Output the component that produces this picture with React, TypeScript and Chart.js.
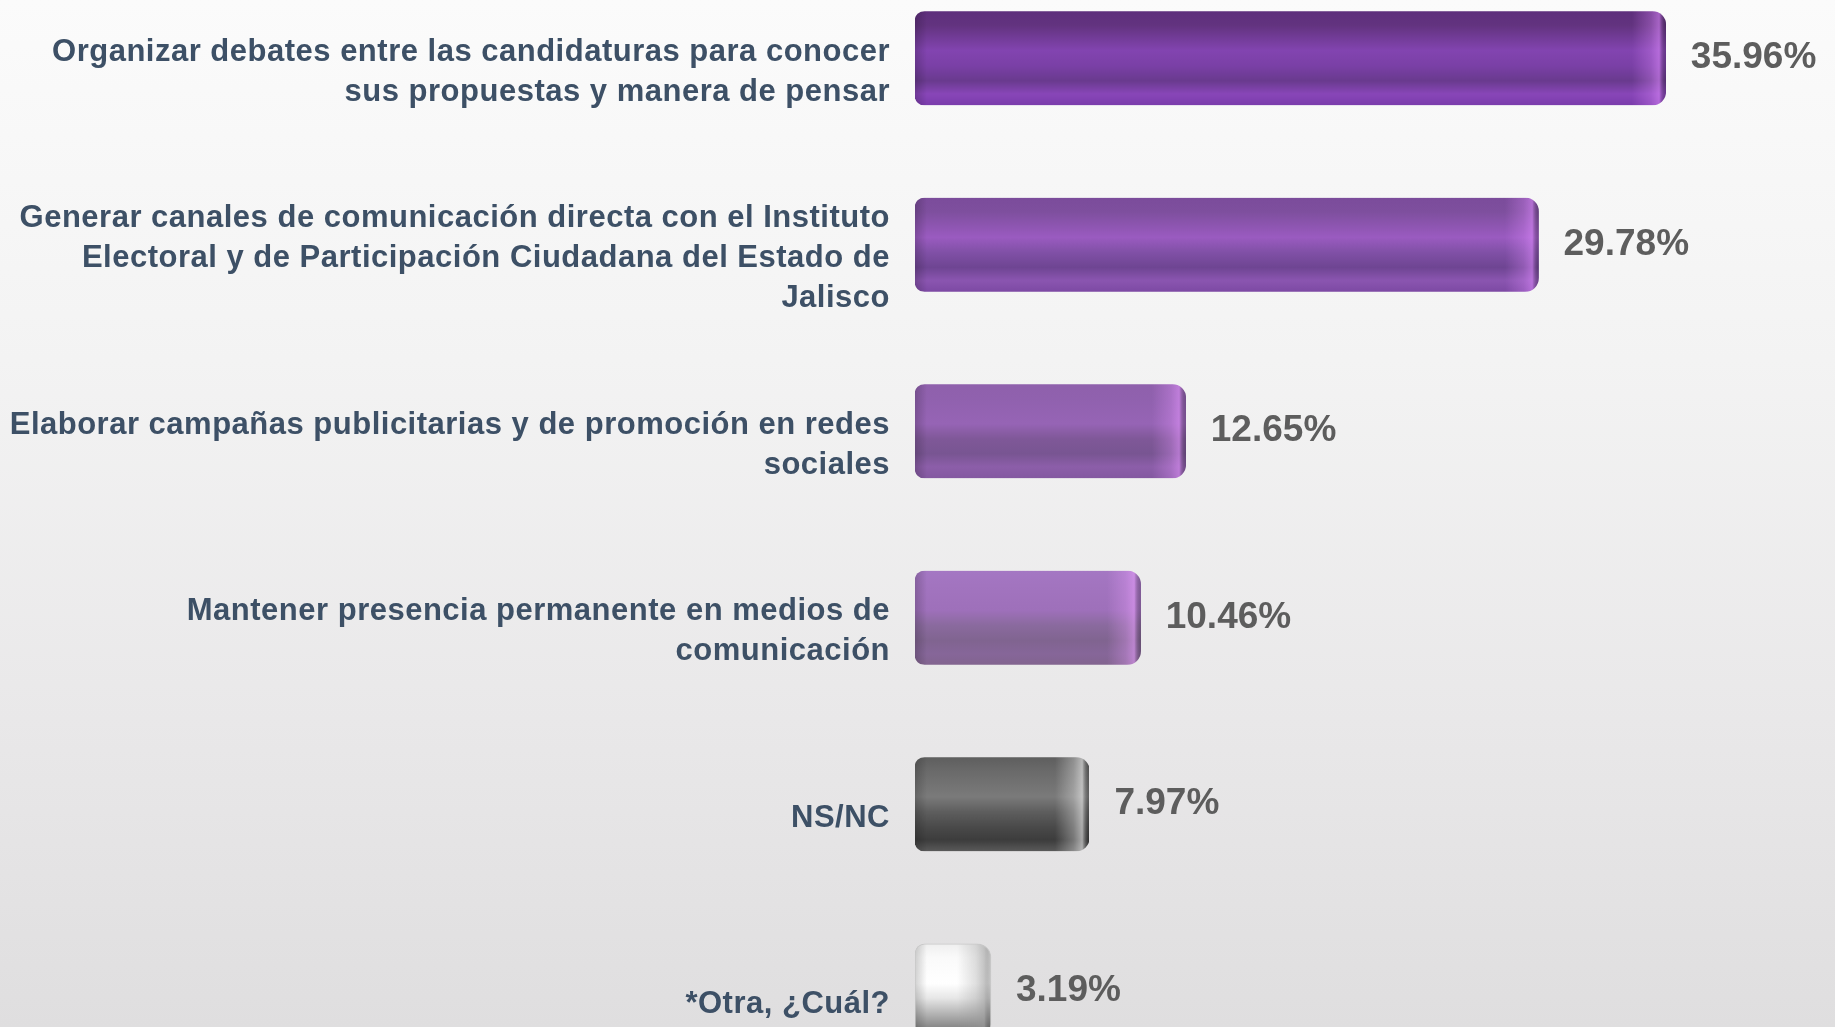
import React, { useEffect, useRef } from "react";
import { Chart, registerables } from "chart.js";

Chart.register(...registerables);

const categories: (string | string[])[] = [
  ["Organizar debates entre las candidaturas para conocer", "sus propuestas y manera de pensar"],
  ["Generar canales de comunicación directa con el Instituto", "Electoral y de Participación Ciudadana del Estado de", "Jalisco"],
  ["Elaborar campañas publicitarias y de promoción en redes", "sociales"],
  ["Mantener presencia permanente en medios de", "comunicación"],
  "NS/NC",
  "*Otra, ¿Cuál?",
];

const values: number[] = [35.96, 29.78, 12.65, 10.46, 7.97, 3.19];

// vertical shading stops for each cylinder (top -> bottom)
const barShades: string[][] = [
  ["#5e2f7c", "#62337f", "#8244b0", "#7a40a6", "#693a8e", "#8846b8", "#7a3cab"],
  ["#7b4c9b", "#7e4f9e", "#9a5bc0", "#8050a6", "#6e4592", "#8a55b0", "#7c49a3"],
  ["#8f60ac", "#9061ae", "#9664b5", "#7f5898", "#785592", "#8c5ea9", "#8358a0"],
  ["#a477c3", "#a274bf", "#9e70ba", "#8a6a9e", "#806490", "#866699", "#82648f"],
  ["#5e5e5e", "#6a6a6a", "#7a7a7a", "#5e5e5e", "#4a4a4a", "#3c3c3c", "#5a5a5a"],
  ["#efefef", "#fafafa", "#ffffff", "#e6e6e6", "#b5b5b5", "#8a8a8a", "#6a6a6a"],
];
const capHighlights: string[] = ["224,140,255", "224,140,255", "230,150,255", "235,160,255", "255,255,255", "150,150,150"];

const BAR_THICKNESS = 94;
const BASE_VALUE = -0.5;
const CANVAS_W = 1835;
const CANVAS_H = 1119;
const VIEW_H = 1027;

function makeBarFill(ch: any, i: number): any {
  const xs = ch.scales.x;
  const ys = ch.scales.y;
  const x0 = xs.getPixelForValue(BASE_VALUE);
  const x1 = xs.getPixelForValue(values[i]);
  const yc = ys.getPixelForValue(i);
  const w = Math.max(4, Math.round(x1 - x0));
  const h = BAR_THICKNESS;
  const off = document.createElement("canvas");
  off.width = w;
  off.height = h;
  const c = off.getContext("2d") as CanvasRenderingContext2D;
  const shades = barShades[i] || barShades[0];
  const pos = [0, 0.15, 0.42, 0.58, 0.74, 0.88, 1];
  const g = c.createLinearGradient(0, 0, 0, h);
  shades.forEach((s, k) => g.addColorStop(pos[k], s));
  c.fillStyle = g;
  c.fillRect(0, 0, w, h);
  // left edge shading
  const lg = c.createLinearGradient(0, 0, 12, 0);
  lg.addColorStop(0, "rgba(0,0,0,0.18)");
  lg.addColorStop(1, "rgba(0,0,0,0)");
  c.fillStyle = lg;
  c.fillRect(0, 0, 12, h);
  // right cap highlight
  const capW = Math.min(34, w / 2);
  const rgb = capHighlights[i] || capHighlights[0];
  const hg = c.createLinearGradient(w - capW, 0, w, 0);
  hg.addColorStop(0, `rgba(${rgb},0)`);
  hg.addColorStop(0.55, `rgba(${rgb},0.3)`);
  hg.addColorStop(0.8, `rgba(${rgb},0.55)`);
  hg.addColorStop(1, "rgba(0,0,0,0.2)");
  c.fillStyle = hg;
  c.fillRect(w - capW, 0, capW, h);
  const p = ch.ctx.createPattern(off, "no-repeat");
  if (p && (p as any).setTransform) {
    p.setTransform(new DOMMatrix([1, 0, 0, 1, x0, yc - h / 2]));
  }
  return p || shades[2];
}

export default function App() {
  const canvasRef = useRef<HTMLCanvasElement | null>(null);

  useEffect(() => {
    const canvas = canvasRef.current;
    if (!canvas) return;

    const letterSpacingPlugin = {
      id: "letterSpacing",
      beforeDraw(chart: any) {
        (chart.ctx as any).letterSpacing = "0.5px";
      },
    };

    const valueLabels = {
      id: "valueLabels",
      afterDatasetsDraw(chart: any) {
        const ctx = chart.ctx;
        const meta = chart.getDatasetMeta(0);
        ctx.save();
        (ctx as any).letterSpacing = "0px";
        ctx.font = "bold 37px 'Liberation Sans', Arial, sans-serif";
        ctx.fillStyle = "#5d5d5d";
        ctx.textAlign = "left";
        ctx.textBaseline = "middle";
        meta.data.forEach((el: any, i: number) => {
          ctx.fillText(values[i].toFixed(2) + "%", el.x + 25, el.y);
        });
        ctx.restore();
      },
    };

    const chart = new Chart(canvas, {
      type: "bar",
      data: {
        labels: categories,
        datasets: [
          {
            data: values,
            base: BASE_VALUE,
            barThickness: BAR_THICKNESS,
            borderRadius: { topLeft: 10, bottomLeft: 10, topRight: 14, bottomRight: 14 },
            borderSkipped: false,
            borderWidth: (c: any) => (c.dataIndex === 5 ? 1 : 0),
            borderColor: "#c8c8c8",
            backgroundColor: (c: any) => {
              const ch = c.chart;
              const shades = barShades[c.dataIndex] || barShades[0];
              if (!ch.chartArea || !ch.scales.y || !ch.scales.x) return shades[2];
              return makeBarFill(ch, c.dataIndex);
            },
          } as any,
        ],
      },
      options: {
        indexAxis: "y",
        responsive: false,
        maintainAspectRatio: false,
        animation: false,
        devicePixelRatio: 1,
        layout: { padding: { left: 0, right: 86, top: 0, bottom: 0 } },
        plugins: {
          legend: { display: false },
          tooltip: { enabled: false },
        },
        scales: {
          x: {
            display: false,
            min: BASE_VALUE,
            max: 40,
          },
          y: {
            grid: { display: false },
            border: { display: false },
            afterFit: (scale: any) => {
              scale.width = 915;
              scale.paddingTop = 0;
              scale.paddingBottom = 0;
            },
            ticks: {
              autoSkip: false,
              padding: 17,
              labelOffset: 14,
              color: "#3d5066",
              font: {
                family: "'Liberation Sans', Arial, sans-serif",
                size: 31,
                weight: "bold",
                lineHeight: 40 / 31,
              },
            },
          },
        },
      } as any,
      plugins: [letterSpacingPlugin, valueLabels],
    });

    return () => chart.destroy();
  }, []);

  return (
    <div
      style={{
        position: "fixed",
        left: 0,
        top: 0,
        width: CANVAS_W,
        height: VIEW_H,
        overflow: "hidden",
        background: "linear-gradient(to bottom, #fbfbfb 0%, #f3f3f3 35%, #e9e8e9 70%, #dfdedf 100%)",
      }}
    >
      <div style={{ position: "absolute", left: 0, top: -35, width: CANVAS_W, height: CANVAS_H }}>
        <canvas
          ref={canvasRef}
          width={CANVAS_W}
          height={CANVAS_H}
          style={{ display: "block", width: CANVAS_W, height: CANVAS_H }}
        />
      </div>
    </div>
  );
}
